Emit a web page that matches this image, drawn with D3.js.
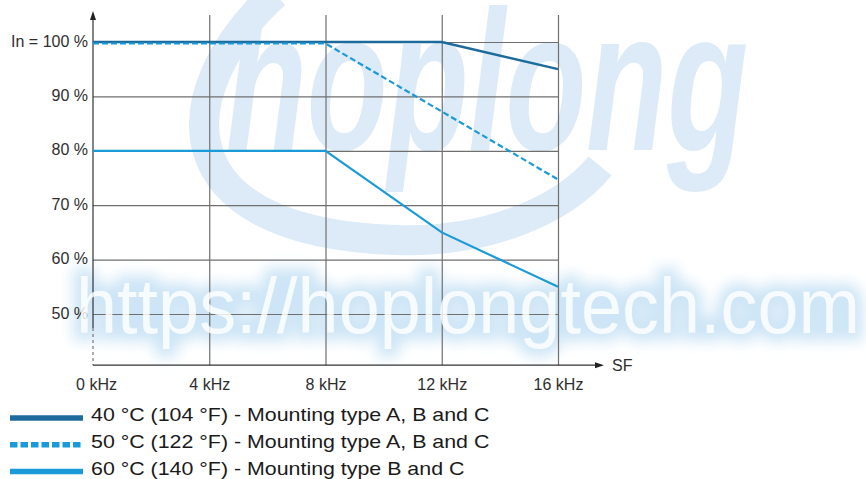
<!DOCTYPE html>
<html>
<head>
<meta charset="utf-8">
<script src="https://cdn.jsdelivr.net/npm/d3@7"></script>
<style>
  html, body { margin: 0; padding: 0; background: #ffffff; }
  svg { display: block; }
  text { font-family: "Liberation Sans", Arial, Helvetica, sans-serif; }
</style>
</head>
<body>
<svg id="chart" width="866" height="479"></svg>
<script>
// ---- data ----
const freqTicks = [0, 4, 8, 12, 16];
const freqLabels = ["0 kHz", "4 kHz", "8 kHz", "12 kHz", "16 kHz"];
const pctTicks = [50, 60, 70, 80, 90, 100];
const pctLabels = ["50 %", "60 %", "70 %", "80 %", "90 %", "In = 100 %"];

const s40Freq = [0, 12, 16];
const s40Val  = [100, 100, 95];
const s50Freq = [0, 8, 12, 16];
const s50Val  = [100, 100, 87.5, 75];
const s60Freq = [0, 8, 12, 16];
const s60Val  = [80, 80, 65, 55];

const seriesNames = [
  "40 °C (104 °F) - Mounting type A, B and C",
  "50 °C (122 °F) - Mounting type A, B and C",
  "60 °C (140 °F) - Mounting type B and C"
];
const xAxisTitle = "SF";
const watermarkLogo = "hoplong";
const watermarkUrl = "https://hoplongtech.com";

// ---- layout ----
const svg = d3.select("#chart");
const x = d3.scaleLinear().domain([0, 16]).range([93, 558]);
const y = d3.scaleLinear().domain([50, 100]).range([314, 42]);
const axisY = y(40.6);     // x-axis baseline
const gridTop = 15;

const darkBlue = "#1c6b9c";
const lightBlue = "#1b9ad8";
const pale = "#dcebf7";

const defs = svg.append("defs");
const glow = defs.append("filter").attr("id", "glow")
  .attr("x", "-10%").attr("y", "-50%").attr("width", "120%").attr("height", "200%");
glow.append("feGaussianBlur").attr("stdDeviation", 7);

// ---- watermark (background) ----
const wm = svg.append("g");
wm.append("path")
  .attr("d", "M 275,-6 C 170,90 160,232 395,240 C 485,243 562,212 600,166")
  .attr("fill", "none").attr("stroke", pale).attr("stroke-width", 30);
wm.append("text")
  .attr("x", 226).attr("y", 150)
  .attr("font-size", 200).attr("font-weight", "bold").attr("font-style", "italic")
  .attr("textLength", 522).attr("lengthAdjust", "spacingAndGlyphs")
  .attr("fill", pale)
  .style("font-family", "'Liberation Sans Narrow', 'Liberation Sans', Arial, sans-serif")
  .text(watermarkLogo);
wm.append("text")
  .attr("x", 76).attr("y", 333)
  .attr("font-size", 78)
  .attr("textLength", 784).attr("lengthAdjust", "spacingAndGlyphs")
  .attr("fill", "#cde5f6").attr("stroke", "#cde5f6").attr("stroke-width", 16)
  .attr("filter", "url(#glow)")
  .text(watermarkUrl);

// ---- grid + axes ----
const gx = svg.append("g").attr("transform", `translate(0,${axisY})`)
  .call(d3.axisBottom(x).tickValues(freqTicks)
    .tickFormat((d, i) => freqLabels[i])
    .tickSize(-(axisY - gridTop)).tickPadding(14));
gx.select(".domain").remove();
gx.selectAll(".tick line").attr("stroke", "#6f6f6f").attr("stroke-width", 1.2)
  .filter(d => d === 0).remove();
gx.selectAll(".tick text").attr("font-size", 16).attr("fill", "#2e2e2e")
  .style("font-family", "'Liberation Sans', Arial, sans-serif")
  .attr("dx", d => d === 0 ? 3 : 0);

const gy = svg.append("g").attr("transform", `translate(${x(0)},0)`)
  .call(d3.axisLeft(y).tickValues(pctTicks)
    .tickFormat((d, i) => pctLabels[i])
    .tickSize(-(x(16) - x(0))).tickPadding(5));
gy.select(".domain").remove();
gy.selectAll(".tick line").attr("stroke", "#6f6f6f").attr("stroke-width", 1.2);
gy.selectAll(".tick text").attr("font-size", 16).attr("fill", "#2e2e2e")
  .attr("dy", "0.25em")
  .style("font-family", "'Liberation Sans', Arial, sans-serif");

// y axis line (solid, then dashed near origin) with arrow
const axG = svg.append("g").attr("stroke", "#333").attr("stroke-width", 1.2);
axG.append("line").attr("x1", x(0)).attr("x2", x(0)).attr("y1", 18).attr("y2", 328);
axG.append("line").attr("x1", x(0)).attr("x2", x(0)).attr("y1", 328).attr("y2", axisY)
  .attr("stroke-dasharray", "3,3").attr("stroke", "#777");
svg.append("path").attr("d", `M ${x(0)},11 L ${x(0) - 3},20 L ${x(0) + 3},20 Z`).attr("fill", "#222");
// x axis line with arrow
axG.append("line").attr("x1", x(0)).attr("x2", 598).attr("y1", axisY).attr("y2", axisY);
svg.append("path").attr("d", `M 604,${axisY} L 595,${axisY - 3} L 595,${axisY + 3} Z`).attr("fill", "#222");
svg.append("text").attr("x", 612).attr("y", axisY + 6)
  .attr("font-size", 16).attr("fill", "#2e2e2e").text(xAxisTitle);

// ---- series ----
const line = d3.line().x(d => x(d[0])).y(d => y(d[1]));
const zip = (a, b) => a.map((v, i) => [v, b[i]]);

svg.append("path").datum(zip(s60Freq, s60Val)).attr("d", line)
  .attr("fill", "none").attr("stroke", lightBlue).attr("stroke-width", 2.2);
svg.append("path").datum(zip(s40Freq, s40Val)).attr("d", line)
  .attr("fill", "none").attr("stroke", darkBlue).attr("stroke-width", 2.4);
svg.append("path").datum(zip(s50Freq, s50Val)).attr("d", line)
  .attr("transform", "translate(0,1.5)")
  .attr("fill", "none").attr("stroke", lightBlue).attr("stroke-width", 2.2)
  .attr("stroke-dasharray", "6,3");

// ---- watermark (foreground white URL) ----
svg.append("text")
  .attr("x", 76).attr("y", 333)
  .attr("font-size", 78)
  .attr("textLength", 784).attr("lengthAdjust", "spacingAndGlyphs")
  .attr("fill", "#ffffff").attr("fill-opacity", 0.82)
  .text(watermarkUrl);

// ---- legend ----
const legendStyles = [
  { color: darkBlue, dash: null },
  { color: lightBlue, dash: "7.5,3" },
  { color: lightBlue, dash: null }
];
const lg = svg.append("g");
const rows = lg.selectAll("g").data(seriesNames).join("g")
  .attr("transform", (d, i) => `translate(0,${421 + i * 26.8})`);
rows.append("line").attr("x1", 10).attr("x2", 83).attr("y1", -3).attr("y2", -3)
  .attr("stroke", (d, i) => legendStyles[i].color).attr("stroke-width", 5.5)
  .attr("stroke-dasharray", (d, i) => legendStyles[i].dash);
rows.append("text").attr("x", 91).attr("y", 0)
  .attr("font-size", 18.5).attr("fill", "#1a1a1a")
  .text(d => d)
  .each(function () {
    const w = this.getComputedTextLength();
    d3.select(this).attr("textLength", w * 1.155).attr("lengthAdjust", "spacingAndGlyphs");
  });
</script>
</body>
</html>
